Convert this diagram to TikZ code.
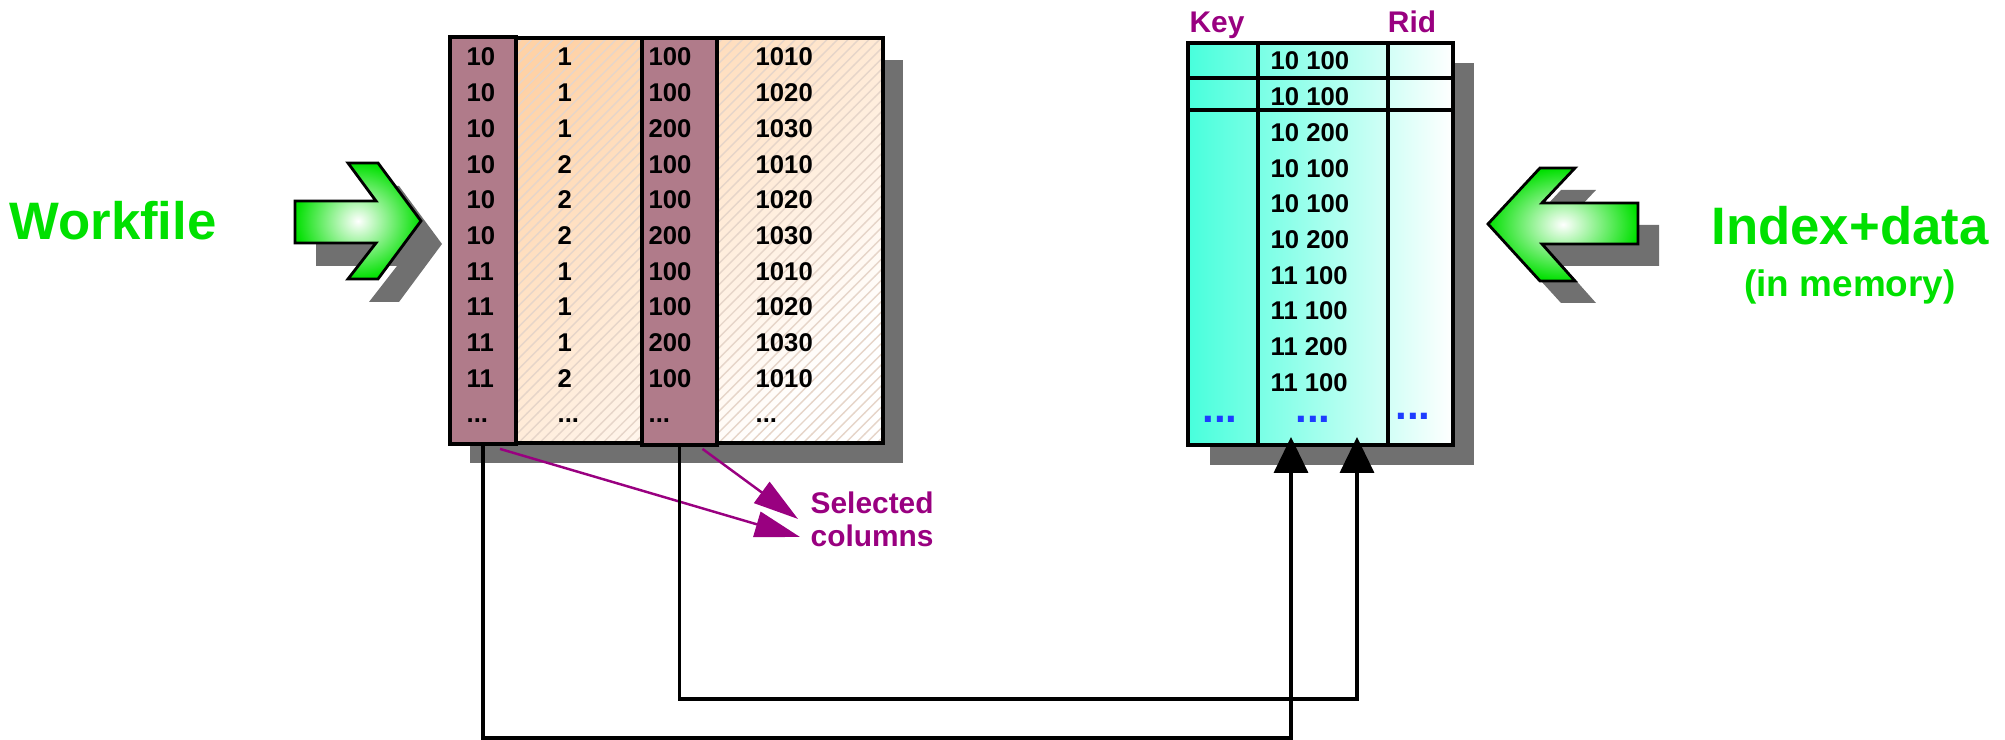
\documentclass[tikz,border=0pt]{standalone}
\usepackage{fontspec}
\setmainfont{Liberation Sans}
\usetikzlibrary{arrows.meta,patterns,calc}
\definecolor{FigGreen}{HTML}{00E000}
\definecolor{FigPurple}{HTML}{990080}
\definecolor{FigMauve}{HTML}{B07B8A}
\definecolor{FigPeach}{HTML}{FFD2A6}
\definecolor{FigHatch}{HTML}{E6D5C9}
\definecolor{FigTurq}{HTML}{48FFDC}
\definecolor{FigBlue}{HTML}{1E3CFF}
\definecolor{FigShadow}{HTML}{707070}
\tikzset{
  wfcell/.style={anchor=base west,font=\fontsize{7.3}{8}\selectfont\bfseries,inner sep=0pt},
  bluedots/.style={anchor=base,font=\fontsize{12}{14}\selectfont\bfseries,text=FigBlue,inner sep=0pt,
    text height=1.5pt,text depth=0pt},
  coltag/.style={font=\fontsize{8.5}{10}\selectfont\bfseries,text=FigPurple,inner sep=0pt},
  bigtitle/.style={anchor=base,font=\fontsize{15}{18}\selectfont\bfseries,text=FigGreen,inner sep=0pt},
  selcol/.style={draw,line width=1.1pt,fill=FigMauve,inner sep=0pt,minimum height=4.07cm},
  feed/.style={line width=1pt,-{Triangle[length=3.6mm,width=3.4mm]}},
  pickline/.style={FigPurple,line width=0.7pt,-{Triangle[length=4.5mm,width=2.6mm]}},
  greenarrow/.style={line width=0.8pt,inner color=white,outer color=FigGreen},
}

\begin{document}
\begin{tikzpicture}[line join=miter]
  \useasboundingbox (0,0) rectangle (20.05,7.40);
  % shadows
  \fill[FigShadow] (4.70,2.77) rectangle (9.03,6.80);
  \fill[FigShadow] (12.10,2.75) rectangle (14.74,6.77);
  \fill[FigShadow,shift={(0.21,-0.23)}] (2.95,5.39) -- (3.76,5.39) -- (3.48,5.77) -- (3.78,5.77) -- (4.21,5.19)
    -- (3.78,4.61) -- (3.48,4.61) -- (3.76,4.97) -- (2.95,4.97) -- cycle;
  \fill[FigShadow,shift={(0.21,-0.22)}] (14.88,5.16) -- (15.40,5.72) -- (15.75,5.72) -- (15.42,5.37) -- (16.38,5.37)
    -- (16.38,4.96) -- (15.42,4.96) -- (15.75,4.59) -- (15.40,4.59) -- cycle;
  % green arrows
  \shadedraw[greenarrow] (2.95,5.39) -- (3.76,5.39) -- (3.48,5.77) -- (3.78,5.77) -- (4.21,5.19)
    -- (3.78,4.61) -- (3.48,4.61) -- (3.76,4.97) -- (2.95,4.97) -- cycle;
  \shadedraw[greenarrow] (14.88,5.16) -- (15.40,5.72) -- (15.75,5.72) -- (15.42,5.37) -- (16.38,5.37)
    -- (16.38,4.96) -- (15.42,4.96) -- (15.75,4.59) -- (15.40,4.59) -- cycle;
  \node[bigtitle] (wf) at (1.13,5.00) {Workfile};
  \node[bigtitle] (idx) at (18.50,4.95) {Index+data};
  \node[bigtitle,font=\fontsize{10.5}{12}\selectfont\bfseries] (mem) at (18.50,4.43) {(in memory)};

  % workfile table
  \shade[top color=FigPeach,bottom color=white,shading angle=45] (4.50,2.97) rectangle (8.83,7.02);
  \fill[pattern=north east lines,pattern color=FigHatch] (4.50,2.97) rectangle (8.83,7.02);
  \draw[line width=1.1pt] (4.50,2.97) rectangle (8.83,7.02);
  \node[selcol,minimum width=0.66cm] (colA) at (4.83,4.995) {};
  \node[selcol,minimum width=0.75cm] (colB) at (6.795,4.985) {};
  \foreach \a/\b/\c/\d [count=\i from 0] in {10/1/100/1010,10/1/100/1020,10/1/200/1030,10/2/100/1010,
      10/2/100/1020,10/2/200/1030,11/1/100/1010,11/1/100/1020,11/1/200/1030,11/2/100/1010}{
    \node[wfcell] (wa\i) at (4.66,6.74-0.357*\i) {\a};
    \node[wfcell] (wb\i) at (5.57,6.74-0.357*\i) {\b};
    \node[wfcell] (wc\i) at (6.48,6.74-0.357*\i) {\c};
    \node[wfcell] (wd\i) at (7.55,6.74-0.357*\i) {\d};
  }
  \node[wfcell] (waX) at (4.66,3.17) {...};
  \node[wfcell] (wbX) at (5.57,3.17) {...};
  \node[wfcell] (wcX) at (6.48,3.17) {...};
  \node[wfcell] (wdX) at (7.55,3.17) {...};

  % index table
  \shade[left color=FigTurq,right color=white] (11.88,2.95) rectangle (14.53,6.97);
  \draw[line width=1.1pt] (11.88,2.95) rectangle (14.53,6.97);
  \draw[line width=1.1pt] (12.58,2.95) -- (12.58,6.97) (13.88,2.95) -- (13.88,6.97)
    (11.88,6.62) -- (14.53,6.62) (11.88,6.30) -- (14.53,6.30);
  \foreach \k [count=\i from 0] in {10 100,10 100,10 200,10 100,10 100,10 200,11 100,11 100,11 200,11 100}
    \node[wfcell] (ix\i) at (12.70,6.70-0.357*\i) {\k};
  \node[bluedots] (dotK) at (12.20,3.17) {...};
  \node[bluedots] (dotM) at (13.13,3.17) {...};
  \node[bluedots] (dotR) at (14.13,3.20) {...};
  \node[coltag,anchor=base] (key) at (12.17,7.07) {Key};
  \node[coltag,anchor=base] (rid) at (14.12,7.07) {Rid};

  % selected columns
  \node[coltag,anchor=base west] (sel1) at (8.10,2.26) {Selected};
  \node[coltag,anchor=base west] (sel2) at (8.10,1.93) {columns};
  \coordinate (tipA) at (8.00,2.03);
  \coordinate (tipB) at (7.98,2.21);
  \draw[pickline] ($(colA.south)+(0.17,-0.03)$) -- (tipA);
  \draw[pickline] ($(colB.south)+(0.23,-0.02)$) -- (tipB);

  % feeding the index
  \coordinate (inA) at (12.91,3.03);
  \coordinate (inB) at (13.57,3.03);
  \draw[feed] (colA.south) -- ++(0,-2.92) -| (inA);
  \draw[feed] (colB.south) -- ++(0,-2.52) -| (inB);
\end{tikzpicture}
\end{document}
